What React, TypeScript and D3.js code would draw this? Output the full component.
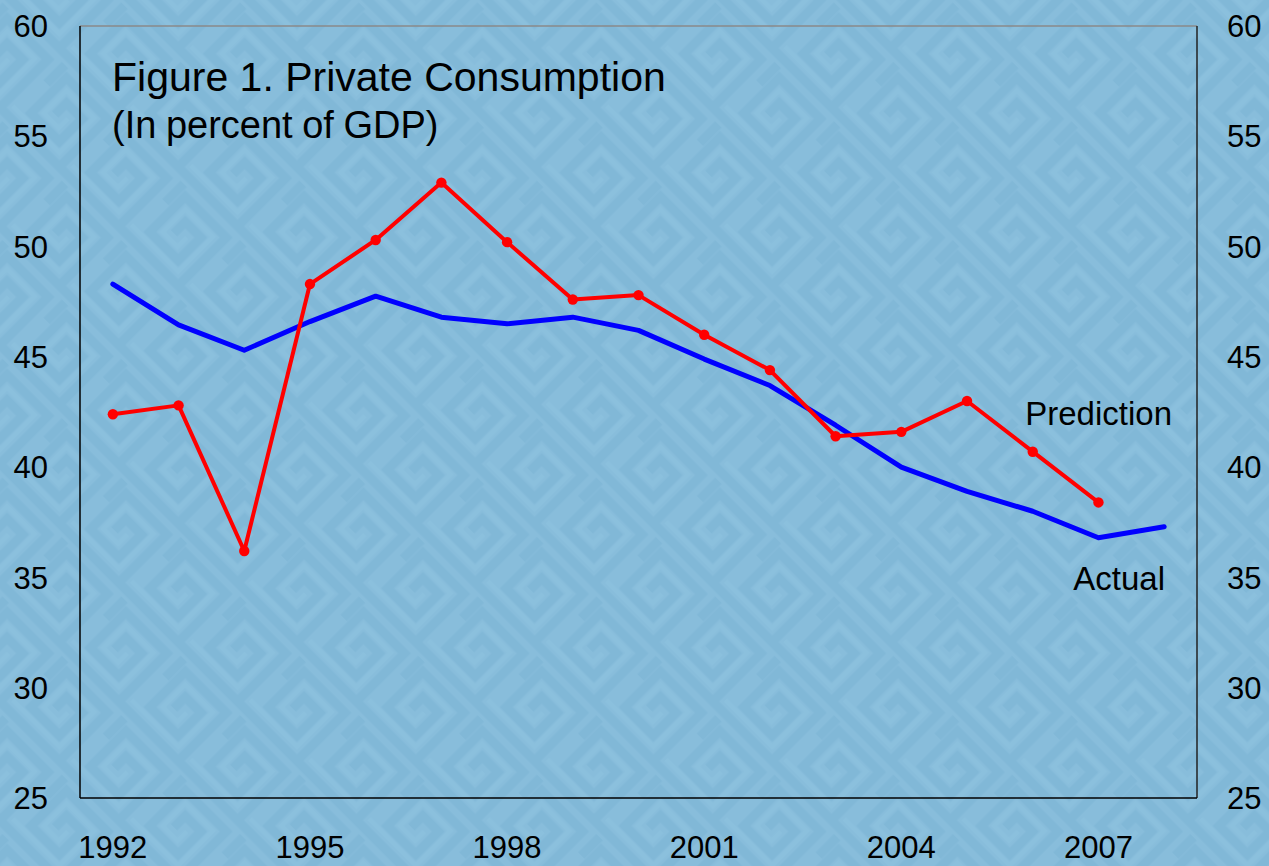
import React, { useEffect, useRef } from 'react';
import * as d3 from "d3";

// categories (years)
const years = ["1992", "1993", "1994", "1995", "1996", "1997", "1998", "1999", "2000",
    "2001", "2002", "2003", "2004", "2005", "2006", "2007", "2008"];

// series, in percent of GDP
const actual = [48.3, 46.45, 45.3, 46.6, 47.75, 46.8, 46.5, 46.8, 46.2,
    44.9, 43.7, 41.9, 40.0, 38.9, 38.0, 36.8, 37.3];
const prediction = [42.4, 42.8, 36.2, 48.3, 50.3, 52.9, 50.2, 47.6, 47.8,
    46.0, 44.4, 41.4, 41.6, 43.0, 40.7, 38.4];

const yTicks = [25, 30, 35, 40, 45, 50, 55, 60];
const xTickLabels = ["1992", "1995", "1998", "2001", "2004", "2007"];

const titleLines = ["Figure 1. Private Consumption", "(In percent of GDP)"];

export default function App() {
    const ref = useRef<SVGSVGElement>(null);
    const W = 1269;
    const H = 866;

    useEffect(() => {
        const svg = d3.select(ref.current);
        svg.selectAll("*").remove();

        const font = "Arial, 'Liberation Sans', sans-serif";
        const left = 80, right = 1197, top = 26, bottom = 798;

        // background with a faint fret pattern
        const defs = svg.append("defs");
        const pat = defs.append("pattern")
            .attr("id", "fret")
            .attr("patternUnits", "userSpaceOnUse")
            .attr("width", 84)
            .attr("height", 84)
            .attr("patternTransform", "rotate(45)");
        pat.append("rect").attr("width", 84).attr("height", 84).attr("fill", "#88bddb");
        pat.append("path")
            .attr("d", "M0,76 H76 V8 H18 V58 H58 V26 H36 V42 M76,76 H84 M8,0 V26")
            .attr("fill", "none")
            .attr("stroke", "#81b8d7")
            .attr("stroke-width", 9);
        pat.append("path")
            .attr("d", "M0,66 H66 V17 H27 V49 H48 V36")
            .attr("fill", "none")
            .attr("stroke", "#8bc0dd")
            .attr("stroke-width", 5);

        svg.append("rect")
            .attr("width", W)
            .attr("height", H)
            .attr("fill", "url(#fret)");

        const x = d3.scaleBand()
            .domain(years)
            .range([left, right])
            .padding(0);
        const cx = (d: string) => (x(d) as number) + x.bandwidth() / 2;

        const y = d3.scaleLinear()
            .domain([25, 60])
            .range([bottom, top]);

        // frame
        svg.append("line").attr("x1", left).attr("x2", right).attr("y1", top).attr("y2", top)
            .attr("stroke", "#8a8a8a").attr("stroke-width", 1.5);
        svg.append("line").attr("x1", right).attr("x2", right).attr("y1", top).attr("y2", bottom)
            .attr("stroke", "#222").attr("stroke-width", 1.5);
        svg.append("line").attr("x1", left).attr("x2", left).attr("y1", top).attr("y2", bottom)
            .attr("stroke", "#000").attr("stroke-width", 1.5);
        svg.append("line").attr("x1", left).attr("x2", right).attr("y1", bottom).attr("y2", bottom)
            .attr("stroke", "#000").attr("stroke-width", 1.5);

        // y tick labels, both sides
        svg.append("g").selectAll("text")
            .data(yTicks)
            .enter().append("text")
            .attr("x", 48)
            .attr("y", d => y(d))
            .attr("dy", "0.36em")
            .attr("text-anchor", "end")
            .attr("font-family", font)
            .attr("font-size", 31)
            .text(d => d);
        svg.append("g").selectAll("text")
            .data(yTicks)
            .enter().append("text")
            .attr("x", 1227)
            .attr("y", d => y(d))
            .attr("dy", "0.36em")
            .attr("text-anchor", "start")
            .attr("font-family", font)
            .attr("font-size", 31)
            .text(d => d);

        // x tick labels
        svg.append("g").selectAll("text")
            .data(xTickLabels)
            .enter().append("text")
            .attr("x", d => cx(d))
            .attr("y", 858)
            .attr("text-anchor", "middle")
            .attr("font-family", font)
            .attr("font-size", 31)
            .text(d => d);

        // actual line
        svg.append("path")
            .datum(actual)
            .attr("fill", "none")
            .attr("stroke", "#0000ff")
            .attr("stroke-width", 5)
            .attr("stroke-linejoin", "round")
            .attr("stroke-linecap", "round")
            .attr("d", d3.line<number>()
                .x((d, i) => cx(years[i]))
                .y(d => y(d))
            );

        // prediction line with markers
        svg.append("path")
            .datum(prediction)
            .attr("fill", "none")
            .attr("stroke", "#ff0000")
            .attr("stroke-width", 4)
            .attr("stroke-linejoin", "round")
            .attr("d", d3.line<number>()
                .x((d, i) => cx(years[i]))
                .y(d => y(d))
            );
        svg.append("g").selectAll("circle")
            .data(prediction)
            .enter().append("circle")
            .attr("cx", (d, i) => cx(years[i]))
            .attr("cy", d => y(d))
            .attr("r", 5.2)
            .attr("fill", "#ff0000");

        // title
        svg.append("text")
            .attr("x", 112).attr("y", 91)
            .attr("font-family", font).attr("font-size", 41)
            .text(titleLines[0]);
        svg.append("text")
            .attr("x", 112).attr("y", 138)
            .attr("font-family", font).attr("font-size", 38)
            .attr("word-spacing", -1)
            .text(titleLines[1]);

        // series labels
        svg.append("text")
            .attr("x", 1172).attr("y", 425)
            .attr("text-anchor", "end")
            .attr("font-family", font).attr("font-size", 33)
            .text("Prediction");
        svg.append("text")
            .attr("x", 1165).attr("y", 590)
            .attr("text-anchor", "end")
            .attr("font-family", font).attr("font-size", 33)
            .text("Actual");
    }, []);

    return (
        <svg ref={ref} width={W} height={H}
            style={{ position: 'absolute', left: 0, top: 0, display: 'block' }}></svg>
    );
}
